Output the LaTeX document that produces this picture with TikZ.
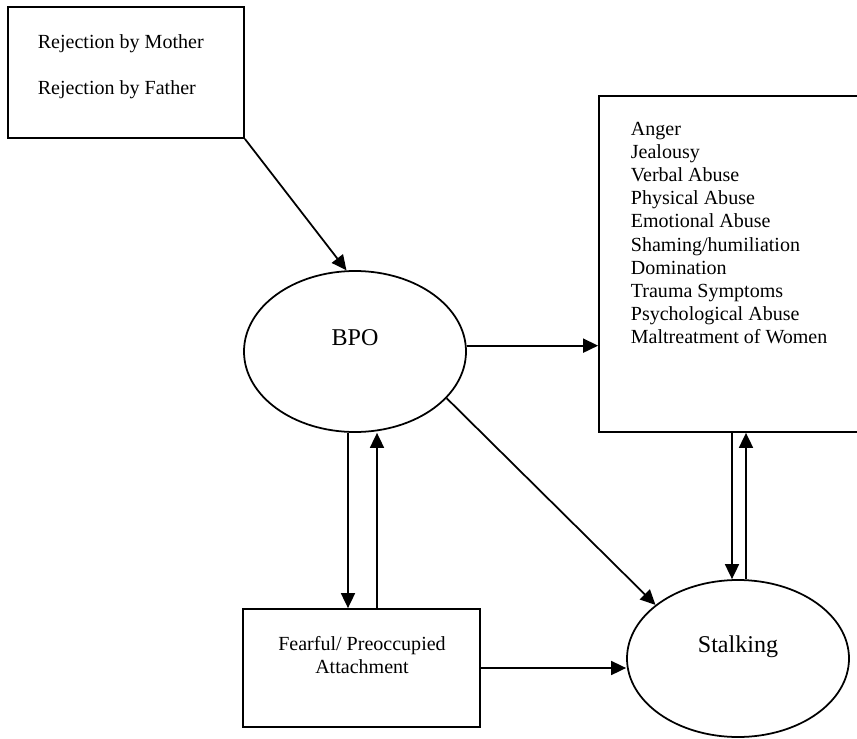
\documentclass[tikz,border=0pt]{standalone}
\usepackage{fontspec}
\setmainfont{Liberation Serif}
\usetikzlibrary{arrows.meta,shapes.geometric}
\begin{document}
\begin{tikzpicture}[x=1cm,y=1cm,line width=1pt,
  font=\fontsize{11.4}{13.2}\selectfont,
  >={Triangle[length=3mm,width=2.8mm]},
  rectbox/.style={draw,rectangle,inner sep=0pt},
  ovalnode/.style={draw,ellipse,inner sep=0pt}]
  \useasboundingbox (0,0) rectangle (17.14,-14.78);
  % parents
  \node[rectbox,minimum width=4.72cm,minimum height=2.62cm] (rej) at (2.52,-1.45) {};
  \node[anchor=base west,inner sep=0pt] (mother) at (0.74,-0.96) {Rejection by Mother};
  \node[anchor=base west,inner sep=0pt] (father) at (0.74,-1.88) {Rejection by Father};
  % BPO
  \node[ovalnode,minimum width=4.44cm,minimum height=3.22cm] (bpo) at (7.10,-7.03) {};
  \node[font=\fontsize{13.7}{16}\selectfont] (bpolabel) at (7.10,-6.76) {BPO};
  % outcomes
  \node[rectbox,minimum width=5.26cm,minimum height=6.72cm] (effects) at (14.61,-5.28) {};
  \node[anchor=north west,align=left,inner sep=0pt] (efflist) at (12.6,-2.42)
    {Anger\\Jealousy\\Verbal Abuse\\Physical Abuse\\Emotional Abuse\\Shaming/humiliation\\Domination\\Trauma Symptoms\\Psychological Abuse\\Maltreatment of Women};
  % attachment
  \node[rectbox,minimum width=4.74cm,minimum height=2.36cm] (fear) at (7.23,-13.36) {};
  \node[align=center] (feartext) at (7.24,-13.10) {Fearful/ Preoccupied\\Attachment};
  % stalking
  \node[ovalnode,minimum width=4.44cm,minimum height=3.14cm] (stalk) at (14.76,-13.17) {};
  \node[font=\fontsize{13.7}{16}\selectfont] (stalklabel) at (14.76,-12.94) {Stalking};
  \coordinate (bpodown) at ([xshift=-0.14cm]bpo.south);
  \coordinate (bpoup) at ([xshift=0.44cm]bpo.south);
  \coordinate (stalkdown) at ([xshift=-0.12cm]stalk.north);
  \coordinate (stalkup) at ([xshift=0.16cm]stalk.north);
  \draw[->] (rej.south east) -- (bpo.96);
  \draw[->] (bpo.3) -- (bpo.3 -| effects.west);
  \draw[->] (bpo.-27) -- (stalk.147);
  \draw[->] (bpodown) -- (bpodown |- fear.north);
  \draw[->] (bpoup |- fear.north) -- (bpoup);
  \draw[->] (fear.east) -- (fear.east -| stalk.west);
  \draw[->] (stalkdown |- effects.south) -- (stalkdown);
  \draw[->] (stalkup) -- (stalkup |- effects.south);
\end{tikzpicture}
\end{document}
